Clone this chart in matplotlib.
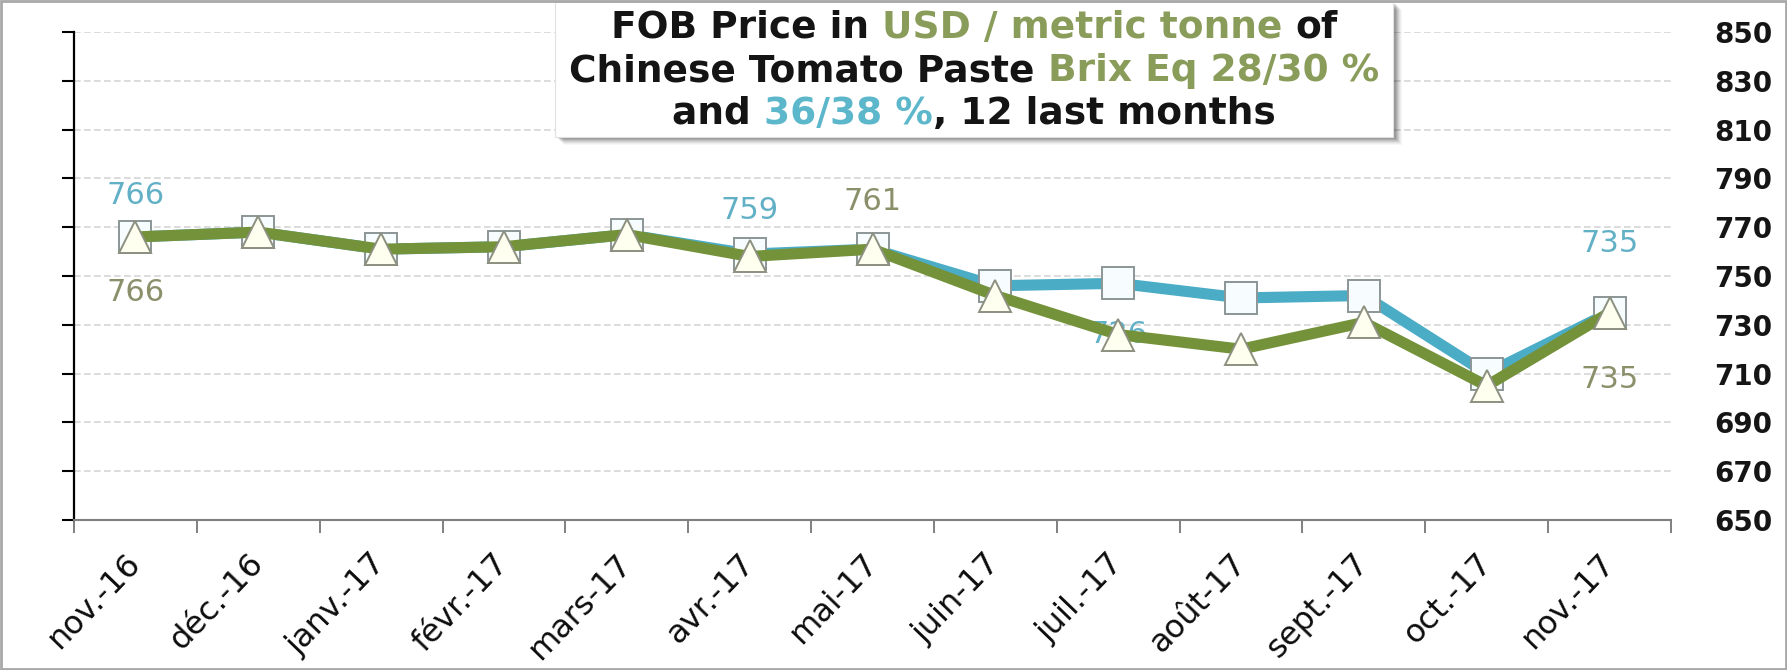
import matplotlib
matplotlib.use('Agg')
import matplotlib.pyplot as plt
from matplotlib.patches import Rectangle
import numpy as np

# ---------------- data ----------------
months = ['nov.-16', 'déc.-16', 'janv.-17', 'févr.-17', 'mars-17', 'avr.-17',
          'mai-17', 'juin-17', 'juil.-17', 'août-17', 'sept.-17', 'oct.-17', 'nov.-17']
brix_36_38 = [766, 768, 761, 762, 767, 759, 761, 746, 747, 741, 742, 710, 735]
brix_28_30 = [766, 768, 761, 762, 767, 758, 761, 742, 726, 720, 731, 705, 735]
y_ticks = [650, 670, 690, 710, 730, 750, 770, 790, 810, 830, 850]

# labelled points: (index, text)
labels_36_38 = [(0, '766'), (5, '759'), (12, '735'), (8, '726')]
labels_28_30 = [(0, '766'), (6, '761'), (12, '735')]

title_lines = [
    [('FOB Price in ', 'k'), ('USD / metric tonne ', 'g'), ('of', 'k')],
    [('Chinese Tomato Paste ', 'k'), ('Brix Eq 28/30 %', 'g')],
    [('and ', 'k'), ('36/38 %', 'b'), (', 12 last months', 'k')],
]

# ---------------- style ----------------
W, H = 1787, 670
BLUE = '#4BACC6'
GREEN = '#74923A'
BLUE_TXT = '#62B0C6'
GREEN_TXT = '#8B8F6A'
TITLE_COL = {'k': '#141414', 'g': '#8A9C5A', 'b': '#5DB7CB'}
FONT = 'DejaVu Sans'

fig = plt.figure(figsize=(W / 100, H / 100), dpi=100)
fig.patch.set_facecolor('white')

ax_left, ax_right, ax_top, ax_bottom = 74, 1671, 32, 520
ax = fig.add_axes([ax_left / W, 1 - ax_bottom / H, (ax_right - ax_left) / W,
                   (ax_bottom - ax_top) / H])

x = np.arange(len(months))
ax.set_xlim(-0.5, len(months) - 0.5)
ax.set_ylim(y_ticks[0], y_ticks[-1])

# grid
for v in y_ticks[1:]:
    ax.axhline(v, color='#d6d6d6', lw=1.2, ls=(0, (4, 2)), zorder=0)

# spines
for s in ['top', 'right']:
    ax.spines[s].set_visible(False)
ax.spines['left'].set_color('black')
ax.spines['left'].set_linewidth(1.6)
ax.spines['bottom'].set_color('#808080')
ax.spines['bottom'].set_linewidth(1.5)

# y axis: ticks left, labels right
ax.set_yticks(y_ticks)
ax.set_yticklabels([str(v) for v in y_ticks])
ax.tick_params(axis='y', left=True, right=False, labelleft=False, labelright=True,
               length=9, width=1.5, color='black', pad=22, labelsize=20,
               labelcolor='#151515')
for lbl in ax.get_yticklabels():
    lbl.set_fontweight('bold')
    lbl.set_family(FONT)

# x axis: labels at category centres, ticks at boundaries
ax.set_xticks(x)
ax.set_xticklabels(months, rotation=46, ha='right', va='center',
                   rotation_mode='anchor', fontsize=23, family=FONT, color='#0d0d0d')
ax.tick_params(axis='x', which='major', length=0, pad=28)
ax.set_xticks(np.arange(-0.5, len(months)), minor=True)
ax.tick_params(axis='x', which='minor', length=9, width=1.4, color='#808080')

# lines
ax.plot(x, brix_36_38, color=BLUE, lw=8, marker='s', ms=23, mfc='#F7FDFF',
        mec='#8C9696', mew=1.4, zorder=3)
ax.plot(x, brix_28_30, color=GREEN, lw=8, marker='^', ms=23, mfc='#FFFFF0',
        mec='#8C9080', mew=1.4, zorder=4)

# data labels (offsets in points)
blue_off = {0: (0, 30), 5: (0, 31), 12: (0, 50), 8: (0, 0)}
green_off = {0: (0, -40), 6: (0, 34), 12: (0, -48)}
for i, t in labels_36_38:
    yv = brix_28_30[i] if t == '726' else brix_36_38[i]
    ax.annotate(t, (x[i], yv), xytext=blue_off[i], textcoords='offset points',
                ha='center', va='center', fontsize=22, family=FONT,
                color=BLUE_TXT, zorder=3.5)
for i, t in labels_28_30:
    ax.annotate(t, (x[i], brix_28_30[i]), xytext=green_off[i], textcoords='offset points',
                ha='center', va='center', fontsize=22, family=FONT,
                color=GREEN_TXT, zorder=5)

# ---------------- title box ----------------
bx0, bx1, by0, by1 = 555, 1393, 2, 137
for k, a in zip(range(1, 8), [0.10, 0.09, 0.08, 0.07, 0.05, 0.04, 0.03]):
    fig.patches.append(Rectangle(((bx0 + 2 + k) / W, 1 - (by1 + 1 + k) / H),
                                 (bx1 - bx0) / W, (by1 - by0) / H,
                                 transform=fig.transFigure, fc='black', ec='none',
                                 alpha=a, zorder=5))
fig.patches.append(Rectangle((bx0 / W, 1 - by1 / H), (bx1 - bx0) / W, (by1 - by0) / H,
                             transform=fig.transFigure, fc='white', ec='#e0e0e0',
                             lw=0.8, zorder=6))

renderer = fig.canvas.get_renderer()
TFS = 27


def text_width(s):
    t = fig.text(0, 0, s, fontsize=TFS, fontweight='bold', family=FONT)
    w = t.get_window_extent(renderer).width
    t.remove()
    return w


hw = text_width('H')


def adv(s):
    return text_width(s + 'H') - hw


cx = (bx0 + bx1) / 2
baselines = [38, 81, 124]
for segs, base in zip(title_lines, baselines):
    full = ''.join(s for s, _ in segs)
    total = text_width(full)
    left = cx - total / 2
    prefix = ''
    for s, c in segs:
        xpos = left + (adv(prefix) if prefix else 0)
        fig.text(xpos / W, 1 - base / H, s, fontsize=TFS, fontweight='bold',
                 family=FONT, color=TITLE_COL[c], ha='left', va='baseline', zorder=7)
        prefix += s

# outer frame
fig.patches.append(Rectangle((0.0008, 0.002), 0.9984, 0.996, transform=fig.transFigure,
                             fill=False, ec='#a8a8a8', lw=2, zorder=10))

fig.savefig('out.png', dpi=100)
